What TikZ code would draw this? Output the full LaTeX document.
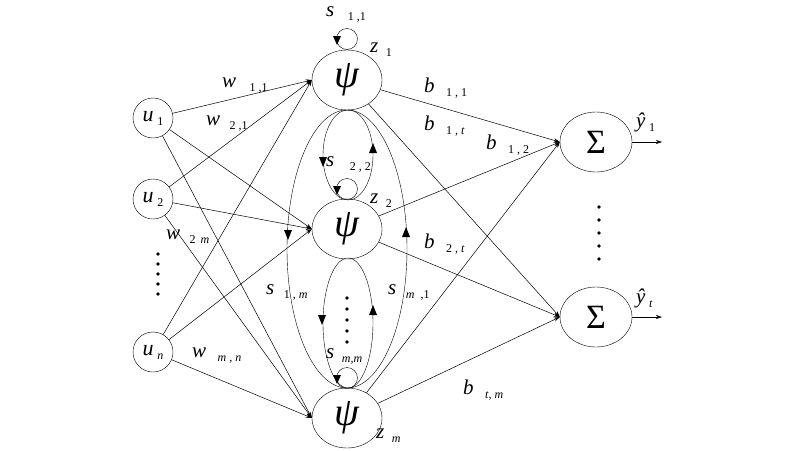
\documentclass[tikz,border=0pt]{standalone}
\usepackage{fontspec}
\setmainfont{Liberation Serif}
\usetikzlibrary{arrows.meta,shapes.geometric}
\newcommand{\subl}[1]{\,\raisebox{-4pt}{\fontsize{12}{12}\selectfont\upshape #1}}
\begin{document}
\begin{tikzpicture}[x=1pt,y=-1pt,
  unit/.style={draw,circle,minimum size=40pt,inner sep=0pt,font=\fontsize{22}{22}\selectfont\itshape},
  hid/.style={draw,ellipse,minimum width=70pt,minimum height=60pt,inner sep=0pt,font=\fontsize{40}{40}\selectfont\itshape},
  sumn/.style={draw,ellipse,minimum width=72pt,minimum height=60pt,inner sep=0pt,font=\fontsize{34}{34}\selectfont},
  conn/.style={-{Stealth[length=6pt,width=4pt]},line width=0.5pt},
  lbl/.style={font=\fontsize{21}{21}\selectfont\itshape,inner sep=0pt}]
\useasboundingbox (0,0) rectangle (800,450);
% inputs
\node[unit] (u1) at (153,118) {u\subl{1}};
\node[unit] (u2) at (153,199) {u\subl{2}};
\node[unit] (un) at (153,352) {u\subl{\itshape n}};
% hidden
\node[hid] (z1) at (347,80) {ψ};
\node[hid] (z2) at (347,229) {ψ};
\node[hid] (zm) at (347,418) {ψ};
% sums
\node[sumn] (s1) at (596,142) {Σ};
\node[sumn] (st) at (596,317) {Σ};
\coordinate (o1) at (662,142);
\coordinate (ot) at (662,317);
\draw[conn] (s1) -- (o1);
\draw[conn] (st) -- (ot);
% input connections
\foreach \u in {u1,u2,un}{
  \foreach \z in {z1,z2,zm}{
    \draw[conn] (\u) -- (\z.west);
  }}
% output connections
\foreach \z in {z1,z2,zm}{
  \draw[conn] (\z) -- (s1.west);
  \draw[conn] (\z) -- (st.west);
}
% recurrent ellipses
\draw (348,155) ellipse (25 and 45);
\draw (347,249) ellipse (60 and 139);
\draw (348,323) ellipse (25 and 65);
\foreach \x/\y in {323/162,322/320,288/235}{
  \fill (\x-4,\y-5) -- (\x+4,\y-5) -- (\x,\y+5) -- cycle;}
\foreach \x/\y in {373/148,373/310,406/232}{
  \fill (\x-4,\y+5) -- (\x+4,\y+5) -- (\x,\y-5) -- cycle;}
% self loops
\foreach \y in {39,189,378}{
  \draw (347,\y) circle (10.5);
  \fill (333,\y-3) -- (341,\y-3) -- (337,\y+6) -- cycle;}
% dots
\foreach \y in {254,264,274,284,294}{\fill (158,\y) circle (1.8);}
\foreach \y in {298,309,320,331,342}{\fill (347,\y) circle (1.8);}
\foreach \y in {207,220,233,246,259}{\fill (599,\y) circle (1.8);}
% labels
\node[lbl,anchor=west] at (222,86) {w\hspace{10pt}\subl{1 ,1}};
\node[lbl,anchor=west] at (206,124) {w\hspace{6pt}\subl{2 ,1}};
\node[lbl,anchor=west] at (166,237) {w\hspace{6pt}\subl{2 \,\itshape m}};
\node[lbl,anchor=west] at (192,356) {w\hspace{8pt}\subl{\itshape m\upshape\ , \itshape n}};
\node[lbl,anchor=west] at (326,14) {s\hspace{10pt}\subl{1 ,1}};
\node[lbl,anchor=west] at (370,50) {z\hspace{4pt}\subl{1}};
\node[lbl,anchor=west] at (370,201) {z\hspace{4pt}\subl{2}};
\node[lbl,anchor=west] at (376,436) {z\hspace{4pt}\subl{\itshape m}};
\node[lbl,anchor=west] at (326,164) {s\hspace{12pt}\subl{2 , 2}};
\node[lbl,anchor=west] at (326,356) {s\hspace{4pt}\subl{\itshape m\upshape ,\itshape m}};
\node[lbl,anchor=west] at (266,292) {s\hspace{6pt}\subl{1 , \itshape m}};
\node[lbl,anchor=west] at (388,292) {s\hspace{6pt}\subl{\itshape m\upshape \ \ ,1}};
\node[lbl,anchor=west] at (424,88) {b\hspace{8pt}\subl{1 , 1}};
\node[lbl,anchor=west] at (424,126) {b\hspace{8pt}\subl{1 , \itshape t}};
\node[lbl,anchor=west] at (486,145) {b\hspace{8pt}\subl{1 , 2}};
\node[lbl,anchor=west] at (424,244) {b\hspace{8pt}\subl{2 , \itshape t}};
\node[lbl,anchor=west] at (463,390) {b\hspace{8pt}\subl{\itshape t\upshape , \itshape m}};
\node[lbl,anchor=west] at (636,122) {ŷ\subl{1}};
\node[lbl,anchor=west] at (636,298) {ŷ\subl{\itshape t}};
\end{tikzpicture}
\end{document}
